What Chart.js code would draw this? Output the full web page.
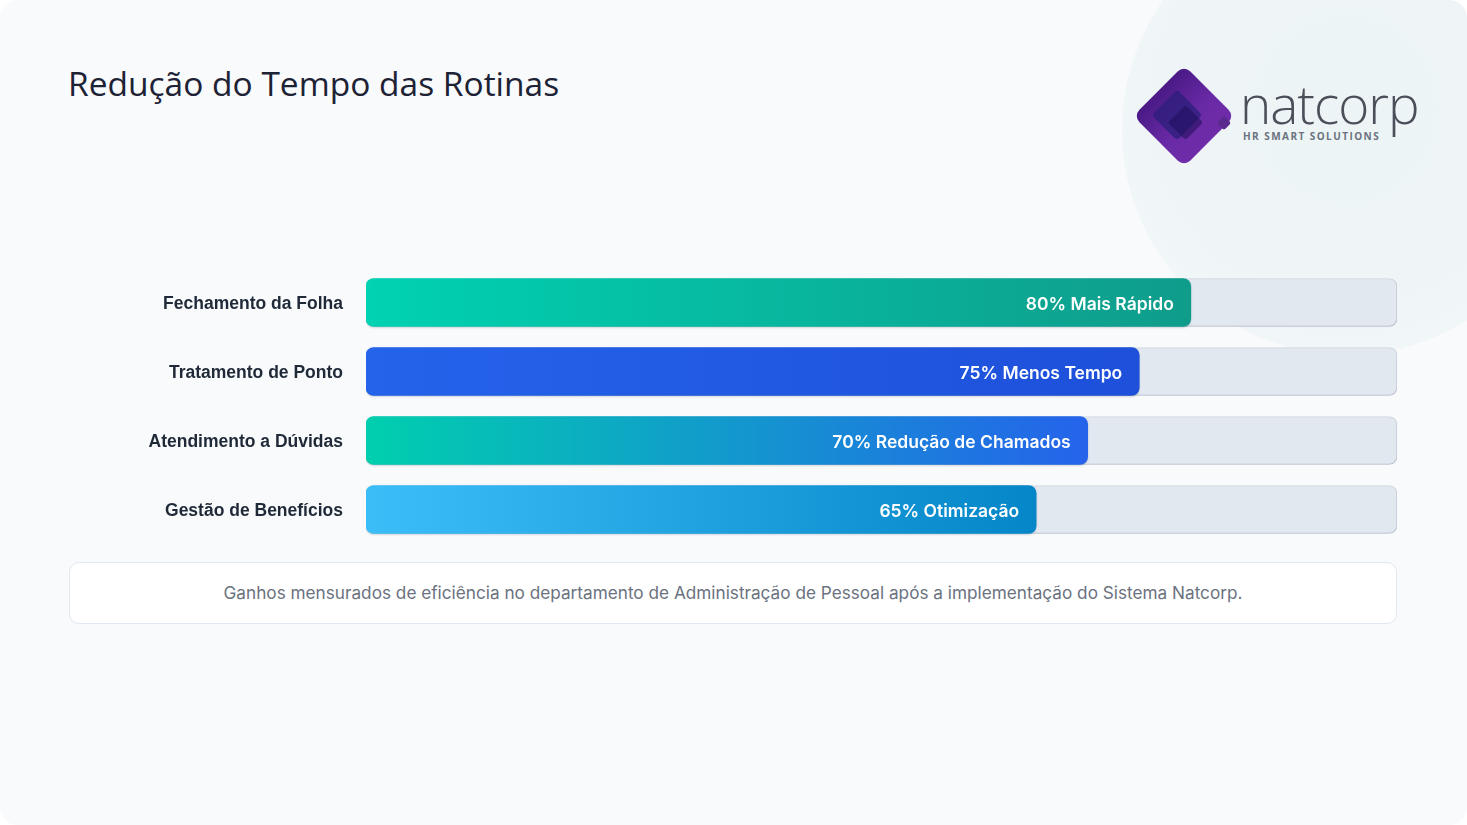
<!DOCTYPE html>
<html lang="pt-BR">
<head>
<meta charset="utf-8">
<title>Redução do Tempo das Rotinas</title>
<script src="https://cdn.jsdelivr.net/npm/chart.js@4.4.1/dist/chart.umd.min.js"></script>
<style>
  html, body { margin: 0; padding: 0; width: 1467px; height: 825px; overflow: hidden; background: #ffffff; }
  .slide { position: absolute; left: 0; top: 0; width: 1467px; height: 825px; background: #f8fafc; border-radius: 18px; overflow: hidden; }
  .circle { position: absolute; left: 1122px; top: -95px; width: 450px; height: 450px; border-radius: 50%;
            background: radial-gradient(circle at 50% 45%, #ecf4f6 0%, #eff5f7 55%, #f4f7f9 100%); }
  h1 { position: absolute; left: 68px; top: 60px; margin: 0; font-family: 'Open Sans', sans-serif; font-weight: 400;
       font-size: 33.5px; color: #1e2235; letter-spacing: 0; }
  .chart-box { position: absolute; left: 69px; top: 268px; width: 1328px; height: 276px; }
  .note { position: absolute; left: 69px; top: 562px; width: 1328px; height: 62px; background: #ffffff;
          border: 1px solid #e2e8f0; border-radius: 10px; display: flex; align-items: center; justify-content: center;
          font-family: Inter, sans-serif; font-size: 17.2px; color: #6b7280; padding-bottom: 2px; box-sizing: border-box; }
  /* logo */
  .logo { position: absolute; left: 0; top: 0; }
  .dia { position: absolute; transform: rotate(45deg); }
  .d-main { left: 1148px; top: 80px; width: 72px; height: 72px; border-radius: 9px;
            background: linear-gradient(90deg, #4a1a86 0%, #6a2aa6 60%, #6f2ca8 100%); }
  .d-inner { left: 1159px; top: 97px; width: 36px; height: 36px; border-radius: 4px; background: rgba(40, 30, 120, 0.7); }
  .d-inner2 { left: 1173px; top: 110px; width: 25px; height: 25px; border-radius: 3px; background: rgba(30, 15, 90, 0.55); }
  .d-small { left: 1219px; top: 118px; width: 10px; height: 10px; border-radius: 2px; background: #5a2a8e; }
  .brand { position: absolute; left: 1240px; top: 77px; font-family: 'Open Sans', sans-serif; font-weight: 300;
           font-size: 53px; letter-spacing: -1px; color: #4a4f5a; line-height: 1; white-space: nowrap; }
  .tagline { position: absolute; left: 1243px; top: 129px; font-family: 'Open Sans', sans-serif; font-weight: 700;
             font-size: 10px; letter-spacing: 1.45px; color: #6b7280; white-space: nowrap; }
</style>
</head>
<body>
<div class="slide">
  <div class="circle"></div>
  <h1>Redução do Tempo das Rotinas</h1>

  <div class="logo">
    <div class="dia d-main"></div>
    <div class="dia d-inner"></div>
    <div class="dia d-inner2"></div>
    <div class="dia d-small"></div>
    <div class="brand">natcorp</div>
    <div class="tagline">HR SMART SOLUTIONS</div>
  </div>

  <div class="chart-box">
    <canvas id="rotinasChart"></canvas>
  </div>

  <div class="note">Ganhos mensurados de eficiência no departamento de Administração de Pessoal após a implementação do Sistema Natcorp.</div>
</div>

<script>
// dados do grafico
const categories = ['Fechamento da Folha', 'Tratamento de Ponto', 'Atendimento a Dúvidas', 'Gestão de Benefícios'];
const reductionValues = [80, 75, 70, 65];
const valueLabels = ['80% Mais Rápido', '75% Menos Tempo', '70% Redução de Chamados', '65% Otimização'];
const trackValues = [100, 100, 100, 100];

// cores do degrade de cada barra (inicio, fim)
const gradientColors = [
  ['#00d2b2', '#0f9c8b'],
  ['#2563eb', '#1e50da'],
  ['#00cfae', '#2563eb'],
  ['#3bbef8', '#0586c8'],
];

function barGradient(context) {
  const chart = context.chart;
  const area = chart.chartArea;
  const cores = gradientColors[context.dataIndex];
  if (!area) return cores[0];
  const end = chart.scales.x.getPixelForValue(reductionValues[context.dataIndex]);
  const g = chart.ctx.createLinearGradient(area.left, 0, end, 0);
  g.addColorStop(0, cores[0]);
  g.addColorStop(1, cores[1]);
  return g;
}

// sombra leve nas barras + textos dentro das barras
const valueLabelPlugin = {
  id: 'valueLabels',
  beforeDatasetsDraw(chart) {
    const ctx = chart.ctx;
    ctx.save();
    ctx.shadowColor = 'rgba(15, 23, 42, 0.18)';
    ctx.shadowBlur = 2;
    ctx.shadowOffsetY = 1;
  },
  afterDatasetsDraw(chart) {
    const ctx = chart.ctx;
    ctx.restore();
    const meta = chart.getDatasetMeta(0);
    ctx.save();
    ctx.font = '600 17.5px Inter, sans-serif';
    ctx.fillStyle = '#ffffff';
    ctx.textAlign = 'right';
    ctx.textBaseline = 'middle';
    meta.data.forEach((bar, i) => {
      ctx.fillText(valueLabels[i], bar.x - 17, bar.y + 2.5);
    });
    ctx.restore();
  }
};

const ctx = document.getElementById('rotinasChart').getContext('2d');
new Chart(ctx, {
  type: 'bar',
  data: {
    labels: categories,
    datasets: [
      {
        label: 'Redução',
        data: reductionValues,
        backgroundColor: barGradient,
        borderWidth: 0,
        borderRadius: 8,
        borderSkipped: false,
        barThickness: 48,
        grouped: false,
        order: 0,
      },
      {
        label: 'Total',
        data: trackValues,
        backgroundColor: '#e2e8f0',
        borderColor: 'rgba(148, 163, 184, 0.35)',
        borderWidth: 1,
        borderRadius: 8,
        borderSkipped: false,
        barThickness: 48,
        grouped: false,
        order: 1,
      },
    ],
  },
  options: {
    indexAxis: 'y',
    responsive: true,
    maintainAspectRatio: false,
    animation: false,
    layout: { padding: 0 },
    plugins: {
      legend: { display: false },
      tooltip: { enabled: false },
    },
    scales: {
      x: { display: false, min: 0, max: 100 },
      y: {
        grid: { display: false },
        border: { display: false },
        ticks: {
          color: '#1f2937',
          padding: 15,
          labelOffset: 2,
          font: { family: "'Liberation Sans', Arial, sans-serif", size: 17.5, weight: 'bold' },
        },
        afterFit(scale) {
          scale.width = 297;
          scale.paddingTop = 0;
          scale.paddingBottom = 0;
        },
      },
    },
  },
  plugins: [valueLabelPlugin],
});
</script>
</body>
</html>
